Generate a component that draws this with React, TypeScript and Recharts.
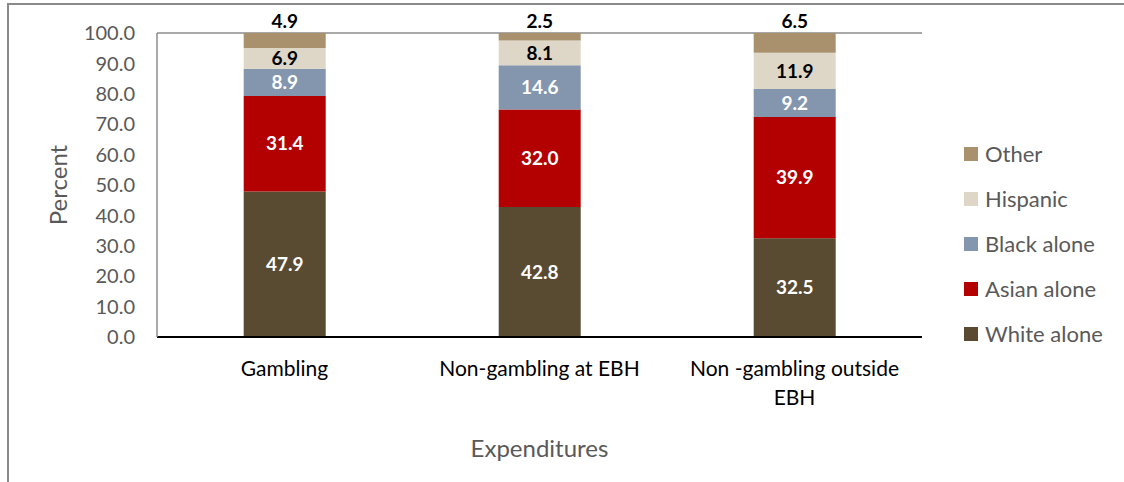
import { Bar, BarChart, CartesianGrid, LabelList, XAxis, YAxis } from "recharts";

const categories = ["Gambling", "Non-gambling at EBH", "Non -gambling outside EBH"];
const whiteAlone = [47.9, 42.8, 32.5];
const asianAlone = [31.4, 32.0, 39.9];
const blackAlone = [8.9, 14.6, 9.2];
const hispanic = [6.9, 8.1, 11.9];
const other = [4.9, 2.5, 6.5];
const yTicks = [0, 10, 20, 30, 40, 50, 60, 70, 80, 90, 100];

const series = [
  { key: "white", name: "White alone", values: whiteAlone, color: "#594A32", labelColor: "#ffffff" },
  { key: "asian", name: "Asian alone", values: asianAlone, color: "#B30000", labelColor: "#ffffff" },
  { key: "black", name: "Black alone", values: blackAlone, color: "#8496AE", labelColor: "#ffffff" },
  { key: "hispanic", name: "Hispanic", values: hispanic, color: "#DED6C7", labelColor: "#000000" },
  { key: "other", name: "Other", values: other, color: "#A8916C", labelColor: "#000000" },
];

const data = categories.map((name, i) => {
  const row: any = { name };
  series.forEach((s) => (row[s.key] = s.values[i]));
  return row;
});

const FONT = "Lato, 'Open Sans', sans-serif";

// greedy word wrap, about 22 characters per line like the original axis
function wrap(label: string, maxChars = 22) {
  const lines: string[] = [];
  let cur = "";
  label.split(" ").forEach((w) => {
    const next = cur ? cur + " " + w : w;
    if (next.length > maxChars && cur) {
      lines.push(cur);
      cur = w;
    } else cur = next;
  });
  if (cur) lines.push(cur);
  return lines;
}

function CategoryTick({ x, y, payload }: any) {
  const lines = wrap(String(payload.value));
  return (
    <text x={x} y={y + 31} textAnchor="middle" fill="#000000" fontSize={21} fontFamily={FONT}>
      {lines.map((l, i) => (
        <tspan key={i} x={x} dy={i === 0 ? 0 : 29}>
          {l}
        </tspan>
      ))}
    </text>
  );
}

export default function App() {
  return (
    <div style={{ position: "absolute", left: 0, top: 0, width: 1124, height: 482, background: "#fff", overflow: "hidden" }}>
      <div
        style={{
          position: "absolute",
          left: 7,
          top: 3,
          width: 1200,
          height: 600,
          borderTop: "2px solid #8a8a8a",
          borderLeft: "2px solid #8a8a8a",
        }}
      />
      <div style={{ position: "absolute", left: 0, top: 0 }}>
        <BarChart
          width={1124}
          height={482}
          data={data}
          margin={{ top: 33, right: 202, bottom: 0, left: 0 }}
          barCategoryGap="34%"
        >
          <CartesianGrid vertical={false} stroke="#8c8c8c" strokeWidth={1.5} />
          <XAxis
            dataKey="name"
            height={145}
            axisLine={{ stroke: "#000", strokeWidth: 2 }}
            tickLine={false}
            tick={<CategoryTick />}
            interval={0}
            label={({ viewBox }: any) => (
              <text
                x={viewBox.x + viewBox.width / 2}
                y={viewBox.y + 110}
                textAnchor="middle"
                dominantBaseline="central"
                fill="#595959"
                fontSize={24}
                fontFamily={FONT}
              >
                Expenditures
              </text>
            )}
          />
          <YAxis
            yAxisId="left"
            width={157}
            domain={[0, 100]}
            ticks={yTicks}
            interval={0}
            tickFormatter={(v: number) => v.toFixed(1)}
            axisLine={{ stroke: "#8c8c8c", strokeWidth: 1.5 }}
            tickLine={false}
            tickMargin={16}
            tick={{ fill: "#595959", fontSize: 20, fontFamily: FONT }}
            label={({ viewBox }: any) => (
              <text
                x={57}
                y={viewBox.y + viewBox.height / 2}
                transform={`rotate(-90 57 ${viewBox.y + viewBox.height / 2})`}
                textAnchor="middle"
                dominantBaseline="central"
                fill="#595959"
                fontSize={24}
                fontFamily={FONT}
              >
                Percent
              </text>
            )}
          />
          <YAxis
            yAxisId="right"
            orientation="right"
            width={0}
            domain={[0, 100]}
            tick={false}
            tickLine={false}
            axisLine={{ stroke: "#8c8c8c", strokeWidth: 1.5 }}
          />
          {series.map((s) => (
            <Bar
              key={s.key}
              yAxisId="left"
              dataKey={s.key}
              name={s.name}
              stackId="a"
              fill={s.color}
              isAnimationActive={false}
            >
              <LabelList
                dataKey={s.key}
                position={s.key === "other" ? "top" : "center"}
                offset={5}
                formatter={(v: any) => Number(v).toFixed(1)}
                fill={s.labelColor}
                fontSize={19}
                fontWeight="bold"
                fontFamily={FONT}
              />
            </Bar>
          ))}
        </BarChart>
      </div>
      <div style={{ position: "absolute", left: 964, top: 131, fontFamily: FONT, fontSize: 22, color: "#595959" }}>
        {[...series].reverse().map((s) => (
          <div key={s.key} style={{ display: "flex", alignItems: "center", height: 45 }}>
            <span style={{ display: "inline-block", width: 14, height: 14, background: s.color, marginRight: 7 }} />
            <span>{s.name}</span>
          </div>
        ))}
      </div>
    </div>
  );
}
